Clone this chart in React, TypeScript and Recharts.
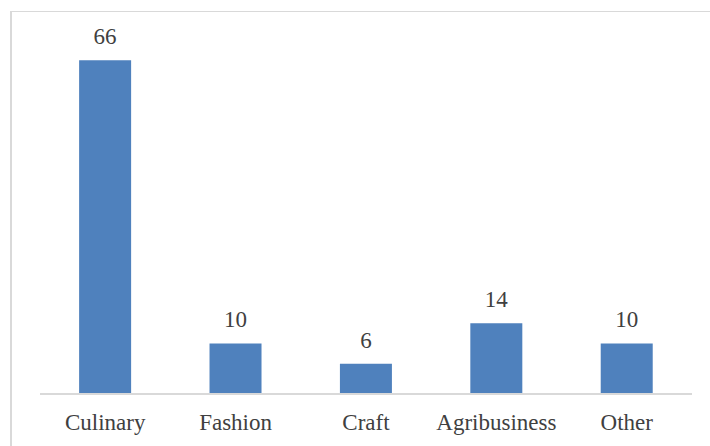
import { BarChart, Bar, XAxis, YAxis, LabelList } from "recharts";

const categories = ["Culinary", "Fashion", "Craft", "Agribusiness", "Other"];
const counts = [66, 10, 6, 14, 10];

const data = categories.map((name, i) => ({ name, value: counts[i] }));

const font = '"Liberation Serif", "Times New Roman", serif';

export default function App() {
  return (
    <div style={{ position: "absolute", left: 0, top: 0, width: 710, height: 446, background: "#fff", overflow: "hidden" }}>
      {/* chart frame */}
      <div
        style={{
          position: "absolute",
          left: 10,
          top: 11,
          right: -4,
          bottom: -4,
          borderLeft: "2px solid #d9d9d9",
          borderTop: "1px solid #d9d9d9",
        }}
      />
      <div style={{ position: "absolute", left: 0, top: 0 }}>
        <BarChart
          width={710}
          height={446}
          data={data}
          margin={{ top: 40, right: 18, left: 40, bottom: 22 }}
          barCategoryGap="30%"
        >
          <XAxis
            dataKey="name"
            height={30}
            axisLine={{ stroke: "#d9d9d9", strokeWidth: 2 }}
            tickLine={false}
            tickSize={6}
            tickMargin={14}
            interval={0}
            tick={{ fill: "#404040", fontSize: 23, fontFamily: font }}
          />
          <YAxis hide domain={[0, 70]} />
          <Bar dataKey="value" fill="#4f81bd" isAnimationActive={false}>
            <LabelList
              dataKey="value"
              position="top"
              offset={16}
              style={{ fill: "#404040", fontSize: 23, fontFamily: font }}
            />
          </Bar>
        </BarChart>
      </div>
    </div>
  );
}
